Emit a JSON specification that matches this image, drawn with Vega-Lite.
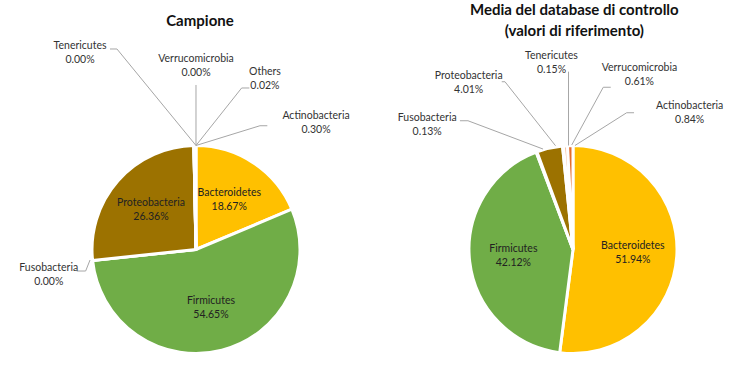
{
  "$schema": "https://vega.github.io/schema/vega-lite/v6.json",
  "width": 740,
  "height": 373,
  "autosize": {"type": "fit", "contains": "padding"},
  "padding": 0,
  "background": "white",
  "config": {"view": {"stroke": null}, "font": "Lato"},
  "datasets": {
    "campione": [
      {"phylum": "Bacteroidetes", "value": 18.67},
      {"phylum": "Firmicutes", "value": 54.65},
      {"phylum": "Fusobacteria", "value": 0.0},
      {"phylum": "Proteobacteria", "value": 26.36},
      {"phylum": "Tenericutes", "value": 0.0},
      {"phylum": "Verrucomicrobia", "value": 0.0},
      {"phylum": "Others", "value": 0.02},
      {"phylum": "Actinobacteria", "value": 0.3}
    ],
    "riferimento": [
      {"phylum": "Bacteroidetes", "value": 51.94},
      {"phylum": "Firmicutes", "value": 42.12},
      {"phylum": "Fusobacteria", "value": 0.13},
      {"phylum": "Proteobacteria", "value": 4.01},
      {"phylum": "Tenericutes", "value": 0.15},
      {"phylum": "Verrucomicrobia", "value": 0.61},
      {"phylum": "Actinobacteria", "value": 0.84}
    ],
    "labels": [
      {"phylum": "Tenericutes", "value": 0.0, "lx": -111.5, "ly": 189.2},
      {"phylum": "Verrucomicrobia", "value": 0.0, "lx": 0, "ly": 176.2},
      {"phylum": "Others", "value": 0.02, "lx": 66.3, "ly": 163.7},
      {"phylum": "Actinobacteria", "value": 0.3, "lx": 115.4, "ly": 121.3},
      {"phylum": "Fusobacteria", "value": 0.0, "lx": -141.6, "ly": -24.5},
      {"phylum": "Fusobacteria", "value": 0.13, "lx": 222.3, "ly": 119.7},
      {"phylum": "Proteobacteria", "value": 4.01, "lx": 262.2, "ly": 159.8},
      {"phylum": "Tenericutes", "value": 0.15, "lx": 341.8, "ly": 179.3},
      {"phylum": "Verrucomicrobia", "value": 0.61, "lx": 426.4, "ly": 168.0},
      {"phylum": "Actinobacteria", "value": 0.84, "lx": 474.7, "ly": 131.0}
    ],
    "leaders": [
      {"id": "L-Ten", "k": 1, "x": -82.7, "y": 192.8},
      {"id": "L-Ten", "k": 2, "x": -76.0, "y": 192.8},
      {"id": "L-Ten", "k": 3, "x": 0, "y": 100},
      {"id": "L-Ver", "k": 1, "x": 0, "y": 158.2},
      {"id": "L-Ver", "k": 2, "x": 0, "y": 100},
      {"id": "L-Oth", "k": 1, "x": 51.3, "y": 155.3},
      {"id": "L-Oth", "k": 2, "x": 43.9, "y": 155.3},
      {"id": "L-Oth", "k": 3, "x": 0, "y": 100},
      {"id": "L-Act", "k": 1, "x": 68.6, "y": 119.0},
      {"id": "L-Act", "k": 2, "x": 61.5, "y": 119.0},
      {"id": "L-Act", "k": 3, "x": 0, "y": 100},
      {"id": "L-Fus", "k": 1, "x": -114.7, "y": -20.7},
      {"id": "L-Fus", "k": 2, "x": -106.1, "y": -20.7},
      {"id": "L-Fus", "k": 3, "x": -101.9, "y": -10.1},
      {"id": "R-Fus", "k": 1, "x": 253.8, "y": 123.8},
      {"id": "R-Fus", "k": 2, "x": 261.5, "y": 123.8},
      {"id": "R-Fus", "k": 3, "x": 333.7, "y": 96.6},
      {"id": "R-Pro", "k": 1, "x": 294.0, "y": 161.3},
      {"id": "R-Pro", "k": 2, "x": 297.1, "y": 161.3},
      {"id": "R-Pro", "k": 3, "x": 345.7, "y": 99.8},
      {"id": "R-Ten", "k": 1, "x": 358.2, "y": 171.0},
      {"id": "R-Ten", "k": 2, "x": 358.2, "y": 100},
      {"id": "R-Ver", "k": 1, "x": 398.8, "y": 156.0},
      {"id": "R-Ver", "k": 2, "x": 391.6, "y": 156.0},
      {"id": "R-Ver", "k": 3, "x": 361.3, "y": 100.5},
      {"id": "R-Act", "k": 1, "x": 421.2, "y": 131.5},
      {"id": "R-Act", "k": 2, "x": 414.1, "y": 131.5},
      {"id": "R-Act", "k": 3, "x": 364.4, "y": 100}
    ],
    "titles": [
      {"title": "Campione", "tx": 3.8, "ty": 220.0},
      {"title": "Media del database di controllo\n(valori di riferimento)", "tx": 363.8, "ty": 230.3}
    ]
  },
  "resolve": {"scale": {"theta": "independent"}},
  "layer": [
    {
      "data": {"name": "campione"},
      "transform": [
        {"window": [{"op": "row_number", "as": "k"}]},
        {"calculate": "datum.value > 10 ? datum.phylum + '\\n' + format(datum.value, '.2f') + '%' : ''", "as": "inLabel"}
      ],
      "encoding": {
        "x": {"datum": 0, "type": "quantitative", "scale": {"domain": [-188.46, 523.08], "nice": false, "zero": false}, "axis": null},
        "y": {"datum": 0, "type": "quantitative", "scale": {"domain": [-118.75, 239.9], "nice": false, "zero": false}, "axis": null},
        "theta": {"field": "value", "type": "quantitative", "stack": true},
        "order": {"field": "k", "type": "quantitative"}
      },
      "layer": [
        {
          "mark": {"type": "arc", "outerRadius": 104, "stroke": "white", "strokeWidth": 3},
          "encoding": {
            "color": {
              "field": "phylum", "type": "nominal", "legend": null,
              "scale": {
                "domain": ["Bacteroidetes", "Firmicutes", "Fusobacteria", "Proteobacteria", "Tenericutes", "Verrucomicrobia", "Others", "Actinobacteria"],
                "range": ["#FFC000", "#70AD47", "#A9D18E", "#9C7200", "#F8CBAD", "#F4B183", "#7F6000", "#E46C2E"]
              }
            }
          }
        },
        {
          "mark": {"type": "text", "radius": 60, "fontSize": 10.5, "color": "#222222", "lineBreak": "\n", "lineHeight": 14, "dy": -7},
          "encoding": {"text": {"field": "inLabel"}}
        }
      ]
    },
    {
      "data": {"name": "riferimento"},
      "transform": [
        {"window": [{"op": "row_number", "as": "k"}]},
        {"calculate": "datum.value > 10 ? datum.phylum + '\\n' + format(datum.value, '.2f') + '%' : ''", "as": "inLabel"}
      ],
      "encoding": {
        "x": {"datum": 362.5, "type": "quantitative"},
        "y": {"datum": 0, "type": "quantitative"},
        "theta": {"field": "value", "type": "quantitative", "stack": true},
        "order": {"field": "k", "type": "quantitative"}
      },
      "layer": [
        {
          "mark": {"type": "arc", "outerRadius": 104, "stroke": "white", "strokeWidth": 3},
          "encoding": {"color": {"field": "phylum", "type": "nominal", "legend": null}}
        },
        {
          "mark": {"type": "text", "radius": 60, "fontSize": 10.5, "color": "#222222", "lineBreak": "\n", "lineHeight": 14, "dy": -7},
          "encoding": {"text": {"field": "inLabel"}}
        }
      ]
    },
    {
      "data": {"name": "leaders"},
      "mark": {"type": "line", "color": "#A6A6A6", "strokeWidth": 1},
      "encoding": {
        "x": {"field": "x", "type": "quantitative"},
        "y": {"field": "y", "type": "quantitative"},
        "detail": {"field": "id"},
        "order": {"field": "k", "type": "quantitative"}
      }
    },
    {
      "data": {"name": "labels"},
      "transform": [
        {"calculate": "datum.phylum + '\\n' + format(datum.value, '.2f') + '%'", "as": "txt"}
      ],
      "mark": {"type": "text", "fontSize": 10.5, "color": "#333333", "lineBreak": "\n", "lineHeight": 14, "baseline": "middle", "align": "center", "dy": -7},
      "encoding": {
        "x": {"field": "lx", "type": "quantitative"},
        "y": {"field": "ly", "type": "quantitative"},
        "text": {"field": "txt"}
      }
    },
    {
      "data": {"name": "titles"},
      "mark": {"type": "text", "fontSize": 15, "fontWeight": "bold", "color": "#111111", "lineBreak": "\n", "lineHeight": 21, "baseline": "middle", "align": "center"},
      "encoding": {
        "x": {"field": "tx", "type": "quantitative"},
        "y": {"field": "ty", "type": "quantitative"},
        "text": {"field": "title"}
      }
    }
  ]
}
